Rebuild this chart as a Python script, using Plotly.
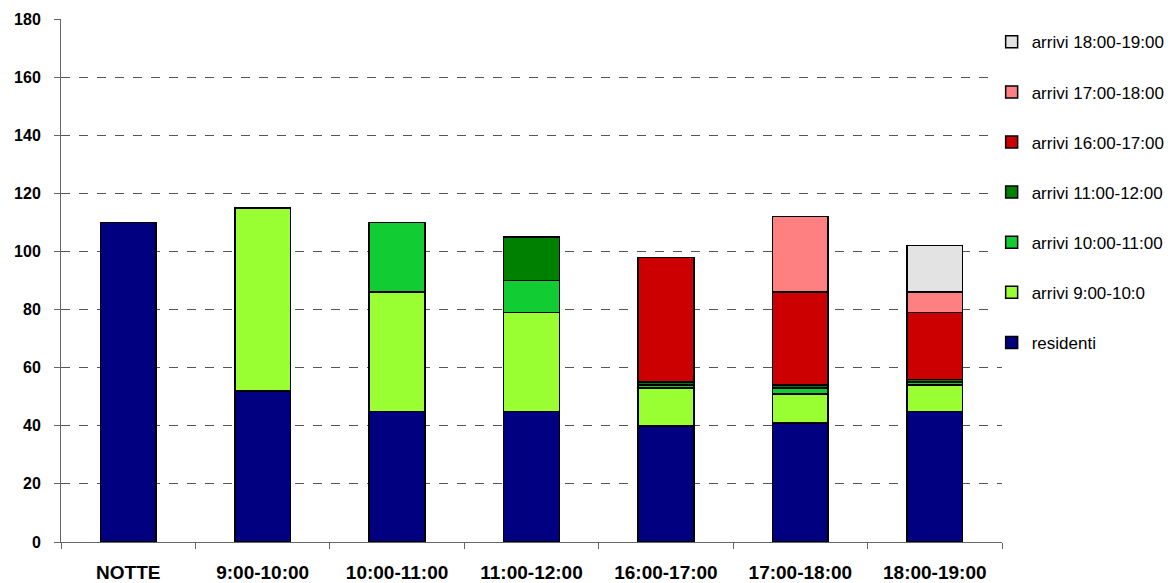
import plotly.graph_objects as go

categories = ["NOTTE", "9:00-10:00", "10:00-11:00", "11:00-12:00", "16:00-17:00", "17:00-18:00", "18:00-19:00"]

residenti   = [110, 52, 45, 45, 40, 41, 45]
arrivi_9_10 = [0, 63, 41, 34, 13, 10, 9]
arrivi_10_11 = [0, 0, 24, 11, 1, 2, 1]
arrivi_11_12 = [0, 0, 0, 15, 1, 1, 1]
arrivi_16_17 = [0, 0, 0, 0, 43, 32, 23]
arrivi_17_18 = [0, 0, 0, 0, 0, 26, 7]
arrivi_18_19 = [0, 0, 0, 0, 0, 0, 16]

series = [
    ("residenti", residenti, "#000080"),
    ("arrivi 9:00-10:0", arrivi_9_10, "#99FF33"),
    ("arrivi 10:00-11:00", arrivi_10_11, "#11CC33"),
    ("arrivi 11:00-12:00", arrivi_11_12, "#008000"),
    ("arrivi 16:00-17:00", arrivi_16_17, "#CC0000"),
    ("arrivi 17:00-18:00", arrivi_17_18, "#FF8080"),
    ("arrivi 18:00-19:00", arrivi_18_19, "#E3E3E3"),
]

fig = go.Figure()
n = len(series)
for i, (name, vals, color) in enumerate(series):
    fig.add_trace(go.Bar(
        x=categories, y=[v if v else None for v in vals], name=name,
        legendgroup=name, legendrank=n - i,
        marker=dict(color=color, line=dict(color="black", width=1.5)),
    ))

font = "Liberation Sans, Arial, sans-serif"
fig.update_layout(
    barmode="stack",
    bargap=0.586,
    width=1165, height=575,
    margin=dict(l=53, r=171, t=11, b=41, autoexpand=False),
    plot_bgcolor="white", paper_bgcolor="white",
    font=dict(family=font, color="black"),
    showlegend=True,
    legend=dict(
        x=0.989, xanchor="left", y=0.99, yanchor="top",
        traceorder="grouped",
        tracegroupgap=25,
        font=dict(size=17, family=font, color="black"),
        itemwidth=30,
    ),
    xaxis=dict(
        type="category",
        automargin=False,
        showline=True, linecolor="#666666", linewidth=1,
        ticks="outside", ticklen=6, tickcolor="#666666",
        tickson="boundaries",
        showgrid=False,
        tickfont=dict(size=19, family=font, color="black", weight="bold"),
        ticklabelstandoff=13,
        range=[-0.5, 6.5],
    ),
    yaxis=dict(
        automargin=False,
        range=[0, 180], dtick=20,
        showline=True, linecolor="#666666", linewidth=1,
        ticks="outside", ticklen=6, tickcolor="#666666",
        showgrid=True, gridcolor="#555555", gridwidth=1, griddash="dash",
        zeroline=False,
        tickfont=dict(size=16, family=font, color="black", weight="bold"),
        ticklabelstandoff=10,
    ),
)

fig.write_html("out.html")
